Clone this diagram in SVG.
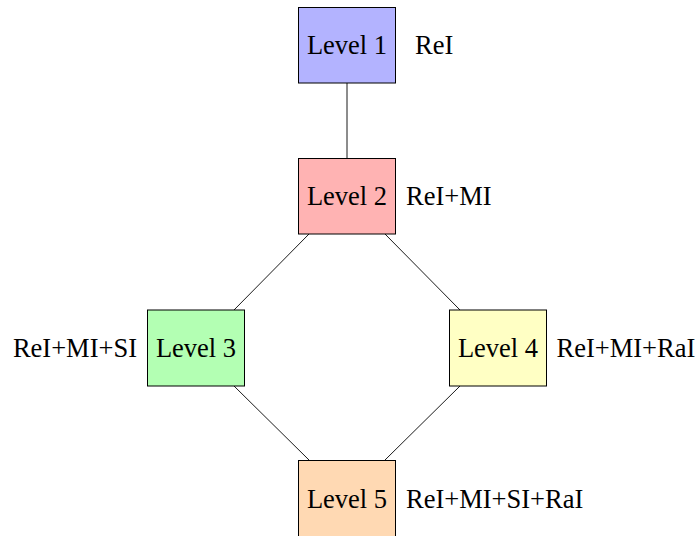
<svg xmlns="http://www.w3.org/2000/svg" width="698" height="536" viewBox="0 0 698 536">
<style>
.box{stroke:#000;stroke-width:1}
.t{font-family:"Liberation Serif","Times New Roman",serif;font-size:26.5px;fill:#000}
.c{text-anchor:middle}
.conn line{stroke:#000;stroke-width:0.9}
</style>
<rect width="698" height="536" fill="#fff"/>
<g id="connectors" class="conn">
<line x1="347" y1="83" x2="347" y2="158"/>
<line x1="309" y1="234" x2="234" y2="310"/>
<line x1="385" y1="234" x2="460" y2="310"/>
<line x1="234" y1="386" x2="309" y2="460"/>
<line x1="460" y1="386" x2="385" y2="460"/>
</g>
<g id="level1">
<rect class="box" x="298.5" y="7.5" width="97" height="75.5" fill="#b3b3ff"/>
<text class="t c" x="347" y="54">Level 1</text>
<text class="t" x="415" y="54">ReI</text>
</g>
<g id="level2">
<rect class="box" x="298.5" y="158.5" width="97" height="75.5" fill="#ffb3b3"/>
<text class="t c" x="347" y="205">Level 2</text>
<text class="t" x="406" y="205">ReI+MI</text>
</g>
<g id="level3">
<rect class="box" x="147.5" y="310" width="97" height="76" fill="#b3ffb3"/>
<text class="t c" x="196" y="357">Level 3</text>
<text class="t" x="137" y="357" text-anchor="end">ReI+MI+SI</text>
</g>
<g id="level4">
<rect class="box" x="449.5" y="310" width="97" height="76" fill="#ffffc4"/>
<text class="t c" x="498" y="357">Level 4</text>
<text class="t" x="556.5" y="357">ReI+MI+RaI</text>
</g>
<g id="level5">
<rect class="box" x="298.5" y="460.5" width="97" height="80" fill="#ffd9b3"/>
<text class="t c" x="347" y="508">Level 5</text>
<text class="t" x="406" y="508">ReI+MI+SI+RaI</text>
</g>
</svg>
